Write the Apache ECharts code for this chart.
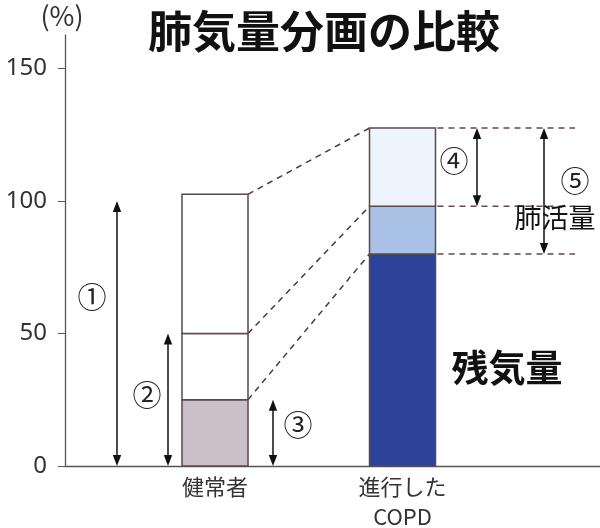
<!DOCTYPE html>
<html>
<head>
<meta charset="utf-8">
<title>肺気量分画の比較</title>
<script src="https://cdn.jsdelivr.net/npm/echarts@6/dist/echarts.min.js"></script>
<style>
  html, body { margin: 0; padding: 0; background: #fff; }
  #chart { width: 600px; height: 528px; }
</style>
</head>
<body>
<div id="chart"></div>
<script>
// データ
var categories = ['健常者', '進行した\nCOPD'];
var healthyLevels = [25, 50, 102.5];   // 残気量 / 50% / 全肺気量
var copdLevels = [80, 98, 127.5];
var yTicks = [0, 50, 100, 150];
var arrowSpans = [[0, 100], [0, 50], [0, 25], [98, 127.5], [80, 127.5]];
var arrowLabels = ['①', '②', '③', '④', '⑤'];

// レイアウト（横軸は非表示の値軸, 0〜535）
var catX = [150, 337.5];
var barW = 66;
var yMax = 162.6;
var arrowX = [52, 103, 208, 412, 479];
var labelPos = [[27, 63.8], [82, 26.8], [233, 15.5], [389, 115], [510, 107.5]];
var dashEnd = 510;
var fills = [
  ['#cdbfc8', '#ffffff', '#ffffff'],
  ['#2c4399', '#a9c1e4', '#eef4fb']
];
var edge = '#5b4750';

var segData = [];
[healthyLevels, copdLevels].forEach(function (lv, c) {
  var lo = 0;
  lv.forEach(function (hi, s) {
    segData.push([c, lo, hi, s]);
    lo = hi;
  });
});

var chart = echarts.init(document.getElementById('chart'));

var option = {
  animation: false,
  title: {
    text: '肺気量分画の比較',
    left: 143,
    top: 4,
    textStyle: { fontFamily: 'Noto Sans CJK JP', fontSize: 44, fontWeight: 'bold', color: '#111' }
  },
  grid: { left: 65, right: 0, top: 35, bottom: 62 },
  xAxis: {
    type: 'value', min: 0, max: 535,
    axisLine: { show: true, lineStyle: { color: '#555', width: 1.3 } },
    axisTick: { show: false }, axisLabel: { show: false }, splitLine: { show: false }
  },
  yAxis: {
    type: 'value', min: 0, max: yMax, interval: 50,
    axisLine: { show: true, lineStyle: { color: '#555', width: 1.3 } },
    axisTick: { show: true, length: 7, customValues: yTicks, lineStyle: { color: '#555' } },
    axisLabel: { customValues: yTicks, margin: 18, fontFamily: 'Noto Sans', fontSize: 24, color: '#333' },
    splitLine: { show: false }
  },
  series: [
    {
      type: 'custom', name: 'segments', data: segData, z: 3,
      renderItem: function (params, api) {
        var c = api.value(0), lo = api.value(1), hi = api.value(2), s = api.value(3);
        var p0 = api.coord([catX[c] - barW / 2, hi]);
        var p1 = api.coord([catX[c] + barW / 2, lo]);
        return {
          type: 'rect',
          shape: { x: p0[0], y: p0[1], width: p1[0] - p0[0], height: p1[1] - p0[1] },
          style: { fill: fills[c][s], stroke: edge, lineWidth: 1.5 }
        };
      }
    },
    {
      type: 'custom', name: 'connectors', data: healthyLevels.map(function (v, i) { return [i]; }), z: 2,
      renderItem: function (params, api) {
        var i = api.value(0);
        var a = api.coord([catX[0] + barW / 2, healthyLevels[i]]);
        var b = api.coord([catX[1] - barW / 2, copdLevels[i]]);
        var c = api.coord([catX[1] + barW / 2, copdLevels[i]]);
        var d = api.coord([dashEnd, copdLevels[i]]);
        var st = { stroke: '#4a3a40', lineWidth: 1.5, lineDash: [6, 5] };
        return {
          type: 'group',
          children: [
            { type: 'line', shape: { x1: a[0], y1: a[1], x2: b[0], y2: b[1] }, style: st },
            { type: 'line', shape: { x1: c[0] + 2, y1: c[1], x2: d[0], y2: d[1] }, style: { stroke: '#5e4a52', lineWidth: 1.5, lineDash: [6, 5] } }
          ]
        };
      }
    },
    {
      type: 'custom', name: 'arrows', data: arrowSpans.map(function (s, i) { return [i, s[0], s[1]]; }), z: 4,
      renderItem: function (params, api) {
        var i = api.value(0);
        var lo = api.coord([arrowX[i], api.value(1)]);
        var hi = api.coord([arrowX[i], api.value(2)]);
        var lp = api.coord(labelPos[i]);
        var x = lo[0], hl = 11, hw = 4.2;
        return {
          type: 'group',
          children: [
            { type: 'line', shape: { x1: x, y1: hi[1] + 4, x2: x, y2: lo[1] - 4 }, style: { stroke: '#111', lineWidth: 1.5 } },
            { type: 'polygon', shape: { points: [[x, hi[1]], [x - hw, hi[1] + hl], [x + hw, hi[1] + hl]] }, style: { fill: '#111' } },
            { type: 'polygon', shape: { points: [[x, lo[1]], [x - hw, lo[1] - hl], [x + hw, lo[1] - hl]] }, style: { fill: '#111' } },
            { type: 'text', x: lp[0], y: lp[1], style: { text: arrowLabels[i], fontFamily: 'Noto Sans CJK JP', fontSize: 29, fill: '#222', align: 'center', verticalAlign: 'middle' } }
          ]
        };
      }
    },
    {
      type: 'custom', name: 'catLabels', data: categories.map(function (c, i) { return [i]; }), z: 4,
      renderItem: function (params, api) {
        var i = api.value(0);
        var p = api.coord([catX[i], 0]);
        return {
          type: 'text', x: p[0], y: p[1] + 6,
          style: { text: categories[i], fontFamily: 'Noto Sans CJK JP', fontSize: 22, lineHeight: 30, fill: '#333', align: 'center', verticalAlign: 'top' }
        };
      }
    },
    {
      type: 'custom', name: 'notes', data: [[0]], z: 4,
      renderItem: function (params, api) {
        var a = api.coord([490, 93.6]);
        var b = api.coord([442, 37]);
        var t = api.coord([0, yMax]);
        return {
          type: 'group',
          children: [
            { type: 'text', x: a[0], y: a[1], style: { text: '肺活量', fontFamily: 'Noto Sans CJK JP', fontSize: 27, fill: '#111', align: 'center', verticalAlign: 'middle' } },
            { type: 'text', x: b[0], y: b[1], style: { text: '残気量', fontFamily: 'Noto Sans CJK JP', fontSize: 37, fontWeight: 'bold', fill: '#111', align: 'center', verticalAlign: 'middle' } },
            { type: 'text', x: t[0] - 3, y: t[1] - 19, style: { text: '(%)', fontFamily: 'Noto Sans CJK JP', fontSize: 27, fill: '#333', align: 'center', verticalAlign: 'middle' } }
          ]
        };
      }
    }
  ]
};

chart.setOption(option);
</script>
</body>
</html>
